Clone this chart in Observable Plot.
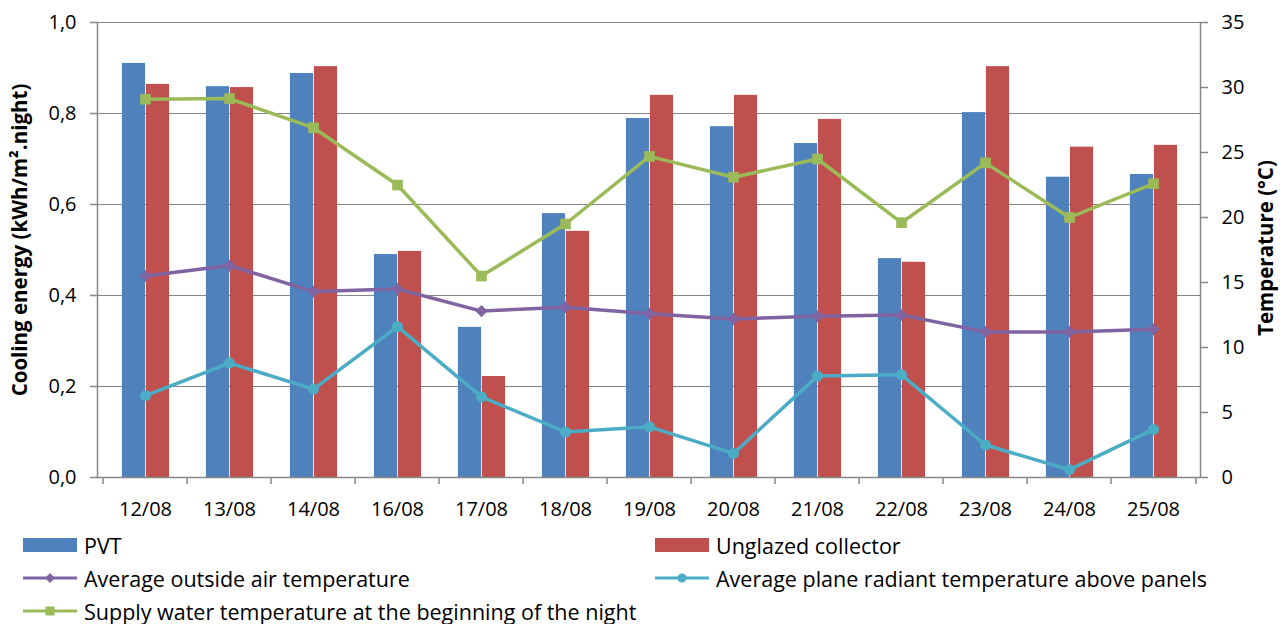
<!DOCTYPE html>
<html>
<head>
<meta charset="utf-8">
<script src="https://cdn.jsdelivr.net/npm/d3@7"></script>
<script src="https://cdn.jsdelivr.net/npm/@observablehq/plot@0.6"></script>
<style>
  html, body { margin: 0; padding: 0; background: #fff; }
  body { width: 1284px; height: 624px; overflow: hidden; font-family: "Open Sans", Lato, sans-serif; }
  #legend { position: relative; height: 104px; font-size: 21.5px; color: #000; }
  .item { position: absolute; display: flex; align-items: center; height: 26px; white-space: nowrap; }
  .item svg { margin-right: 7px; }
</style>
</head>
<body>
<div id="chart"></div>
<div id="legend"></div>
<script>
const dates = ["12/08","13/08","14/08","16/08","17/08","18/08","19/08","20/08","21/08","22/08","23/08","24/08","25/08"];
const pvt = [0.91, 0.859, 0.888, 0.49, 0.33, 0.58, 0.789, 0.771, 0.734, 0.481, 0.802, 0.66, 0.666];
const unglazed = [0.864, 0.857, 0.903, 0.497, 0.222, 0.541, 0.84, 0.84, 0.787, 0.473, 0.903, 0.726, 0.73];
const outsideAir = [15.5, 16.3, 14.3, 14.5, 12.8, 13.1, 12.6, 12.2, 12.4, 12.5, 11.2, 11.2, 11.4];
const radiant = [6.3, 8.8, 6.8, 11.6, 6.2, 3.5, 3.9, 1.85, 7.8, 7.9, 2.5, 0.6, 3.7];
const supply = [29.1, 29.15, 26.9, 22.5, 15.5, 19.5, 24.7, 23.1, 24.5, 19.6, 24.2, 20.0, 22.6];
const energyTicks = [0, 0.2, 0.4, 0.6, 0.8, 1.0];
const tempTicks = [0, 5, 10, 15, 20, 25, 30, 35];
const tempMax = 35;

const W = 1284, H = 520, mL = 97, mR = 84, mT = 22, mB = 43;
const bw = (W - mL - mR) / dates.length;
const barW = 24;

const rows = (vals) => dates.map((d, i) => ({date: d, v: vals[i]}));
const trows = (vals) => dates.map((d, i) => ({date: d, v: vals[i] / tempMax}));
const axisColor = "#868686";
const font = "'Open Sans', Lato, sans-serif";

const chart = Plot.plot({
  width: W, height: H,
  marginLeft: mL, marginRight: mR, marginTop: mT, marginBottom: mB,
  style: {fontFamily: font, fontSize: "20px", color: "#000", background: "#fff", overflow: "visible"},
  x: {type: "band", domain: dates, padding: 0, axis: null},
  y: {domain: [0, 1], axis: null},
  marks: [
    Plot.ruleY(energyTicks.slice(1), {stroke: axisColor, strokeWidth: 1.2}),
    Plot.barY(rows(pvt), {x: "date", y: "v", fill: "#4F81BD", insetLeft: bw/2 - barW + 0.5, insetRight: bw/2 - 0.5}),
    Plot.barY(rows(unglazed), {x: "date", y: "v", fill: "#C0504D", insetLeft: bw/2 + 0.5, insetRight: bw/2 - barW - 0.5}),
    Plot.ruleY([0], {stroke: axisColor, strokeWidth: 1.5}),
    Plot.frame({anchor: "left", stroke: axisColor, strokeWidth: 1.5}),
    Plot.frame({anchor: "right", stroke: axisColor, strokeWidth: 1.5}),
    Plot.ruleX(dates, {x: d => d, dx: -bw/2, y1: 0, y2: -7/455, stroke: axisColor, strokeWidth: 1.5}),
    Plot.ruleX([dates[dates.length - 1]], {x: d => d, dx: bw/2, y1: 0, y2: -7/455, stroke: axisColor, strokeWidth: 1.5}),
    Plot.axisY(energyTicks, {anchor: "left", tickSize: 7, tickPadding: 14, stroke: axisColor, strokeWidth: 1.5, fill: "#000", fontSize: 20, label: null,
      tickFormat: d => d.toFixed(1).replace(".", ",")}),
    Plot.axisY(tempTicks.map(t => t / tempMax), {anchor: "right", tickSize: 7, tickPadding: 14, stroke: axisColor, strokeWidth: 1.5, fill: "#000", fontSize: 20, label: null,
      tickFormat: d => String(Math.round(d * tempMax))}),
    Plot.axisX({tickSize: 0, tickPadding: 24, fill: "#000", fontSize: 20, label: null}),
    Plot.text(["Cooling energy (kWh/m².night)"], {frameAnchor: "left", textAnchor: "middle", rotate: -90, dx: -77, dy: -10, fontWeight: "bold", fontSize: 20.5, fill: "#000"}),
    Plot.text(["Temperature (°C)"], {frameAnchor: "right", textAnchor: "middle", rotate: -90, dx: 66, dy: -2, fontWeight: "bold", fontSize: 20.5, fill: "#000"}),
    Plot.line(trows(outsideAir), {x: "date", y: "v", stroke: "#8064A2", strokeWidth: 3.5}),
    Plot.dot(trows(outsideAir), {x: "date", y: "v", symbol: "diamond2", r: 5.5, fill: "#8064A2"}),
    Plot.line(trows(radiant), {x: "date", y: "v", stroke: "#4BACC6", strokeWidth: 3.5}),
    Plot.dot(trows(radiant), {x: "date", y: "v", symbol: "circle", r: 5.5, fill: "#4BACC6"}),
    Plot.line(trows(supply), {x: "date", y: "v", stroke: "#9BBB59", strokeWidth: 3.5}),
    Plot.dot(trows(supply), {x: "date", y: "v", symbol: "square", r: 6, fill: "#9BBB59"})
  ]
});
document.getElementById("chart").appendChild(chart);

const legendItems = [
  {label: "PVT", type: "bar", color: "#4F81BD", x: 23, y: 545},
  {label: "Unglazed collector", type: "bar", color: "#C0504D", x: 655, y: 545},
  {label: "Average outside air temperature", type: "line", color: "#8064A2", sym: "diamond", x: 23, y: 578},
  {label: "Average plane radiant temperature above panels", type: "line", color: "#4BACC6", sym: "circle", x: 655, y: 578},
  {label: "Supply water temperature at the beginning of the night", type: "line", color: "#9BBB59", sym: "square", x: 23, y: 611}
];
const legend = document.getElementById("legend");
for (const it of legendItems) {
  const div = document.createElement("div");
  div.className = "item";
  div.style.left = it.x + "px";
  div.style.top = (it.y - 520 - 13) + "px";
  let sw;
  if (it.type === "bar") {
    sw = `<svg width="54" height="20"><rect x="0" y="3" width="54" height="14" fill="${it.color}"/></svg>`;
  } else {
    let m;
    if (it.sym === "diamond") m = `<path d="M27,5 L32,10 L27,15 L22,10 Z" fill="${it.color}"/>`;
    else if (it.sym === "circle") m = `<circle cx="27" cy="10" r="4.5" fill="${it.color}"/>`;
    else m = `<rect x="22.5" y="5.5" width="9" height="9" fill="${it.color}"/>`;
    sw = `<svg width="54" height="20"><line x1="0" y1="10" x2="54" y2="10" stroke="${it.color}" stroke-width="3"/>${m}</svg>`;
  }
  div.innerHTML = sw + `<span>${it.label}</span>`;
  legend.appendChild(div);
}
</script>
</body>
</html>
